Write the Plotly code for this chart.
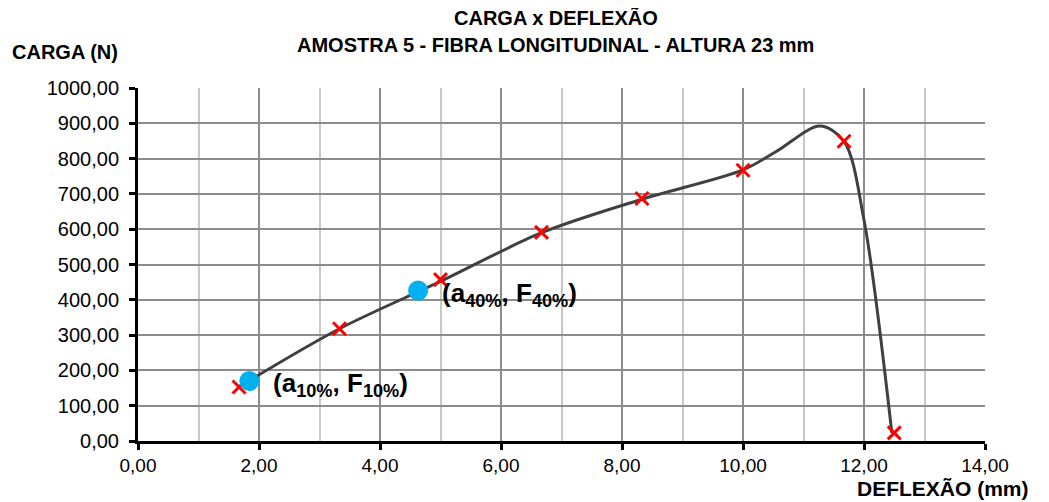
import plotly.graph_objects as go

# Measured points (red x markers)
defl_pts = [1.67, 3.33, 5.00, 6.67, 8.33, 10.00, 11.67, 12.50]
carga_pts = [153, 318, 457, 591, 687, 767, 849, 23]

# Smoothed curve
defl_line = [1.83, 3.33, 5.00, 6.67, 8.33, 10.00, 10.55, 11.27, 11.67, 12.00, 12.46]
carga_line = [170, 318, 452, 590, 685, 768, 820, 892, 849, 626, 23]

# Characteristic points (blue)
defl_char = [1.84, 4.63]
carga_char = [170, 426]
char_labels = ["(a<sub>10%</sub>, F<sub>10%</sub>)", "(a<sub>40%</sub>, F<sub>40%</sub>)"]

x_ticks = [0, 2, 4, 6, 8, 10, 12, 14]
title_lines = ["CARGA x DEFLEXÃO", "AMOSTRA 5 - FIBRA LONGITUDINAL - ALTURA 23 mm"]

FONT = "Liberation Sans, Arial"

fig = go.Figure()
fig.add_trace(go.Scatter(x=defl_line, y=carga_line, mode="lines",
                         line=dict(color="#404040", width=3, shape="spline", smoothing=0.9),
                         hoverinfo="skip", showlegend=False))
fig.add_trace(go.Scatter(x=defl_pts, y=carga_pts, mode="markers",
                         marker=dict(symbol="x-thin", size=13, line=dict(color="#FF0000", width=3)),
                         showlegend=False))
fig.add_trace(go.Scatter(x=defl_char, y=carga_char, mode="markers",
                         marker=dict(symbol="circle", size=20, color="#00B0F0"),
                         showlegend=False))

for xv, yv, t in zip(defl_char, carga_char, char_labels):
    fig.add_annotation(x=xv, y=yv, text="<b>" + t + "</b>", showarrow=False,
                       xanchor="left", yanchor="middle", xshift=22, yshift=-4,
                       font=dict(family=FONT, size=26, color="black"))

fig.update_layout(
    width=1041, height=494,
    margin=dict(l=130, r=64, t=80, b=61),
    plot_bgcolor="white", paper_bgcolor="white",
    separators=",.",
    font=dict(family=FONT, size=20, color="black"),
    xaxis=dict(range=[0, 14], tickvals=x_ticks, tickformat=".2f",
               showline=True, linecolor="black", linewidth=3,
               ticks="outside", ticklen=6, tickwidth=3, tickcolor="black",
               ticklabelstandoff=-1,
               showgrid=True, gridcolor="#8c8c8c", gridwidth=2,
               minor=dict(dtick=1, showgrid=True, gridcolor="#c8c8c8", gridwidth=2, ticks=""),
               zeroline=False, tickfont=dict(size=19)),
    yaxis=dict(range=[0, 1000], dtick=100, tickformat=".2f",
               showline=True, linecolor="black", linewidth=3,
               ticks="outside", ticklen=6, tickwidth=3, tickcolor="black",
               ticklabelstandoff=6,
               showgrid=True, gridcolor="#8c8c8c", gridwidth=2,
               zeroline=False, tickfont=dict(size=20)),
)

for line_text, yv in zip(title_lines, [1.198, 1.122]):
    fig.add_annotation(xref="paper", yref="paper", x=0.4935, y=yv, xanchor="center", yanchor="middle",
                       text="<b>" + line_text + "</b>", showarrow=False,
                       font=dict(family=FONT, size=20))

fig.add_annotation(xref="paper", yref="paper", x=-0.151, y=1.102, xanchor="left", yanchor="middle",
                   text="<b>CARGA (N)</b>", showarrow=False,
                   font=dict(family=FONT, size=20))
fig.add_annotation(xref="paper", yref="paper", x=1.053, y=-0.171, xanchor="right", yanchor="bottom",
                   text="<b>DEFLEXÃO (mm)</b>", showarrow=False, borderpad=0,
                   font=dict(family=FONT, size=21))

fig.write_html("out.html")
